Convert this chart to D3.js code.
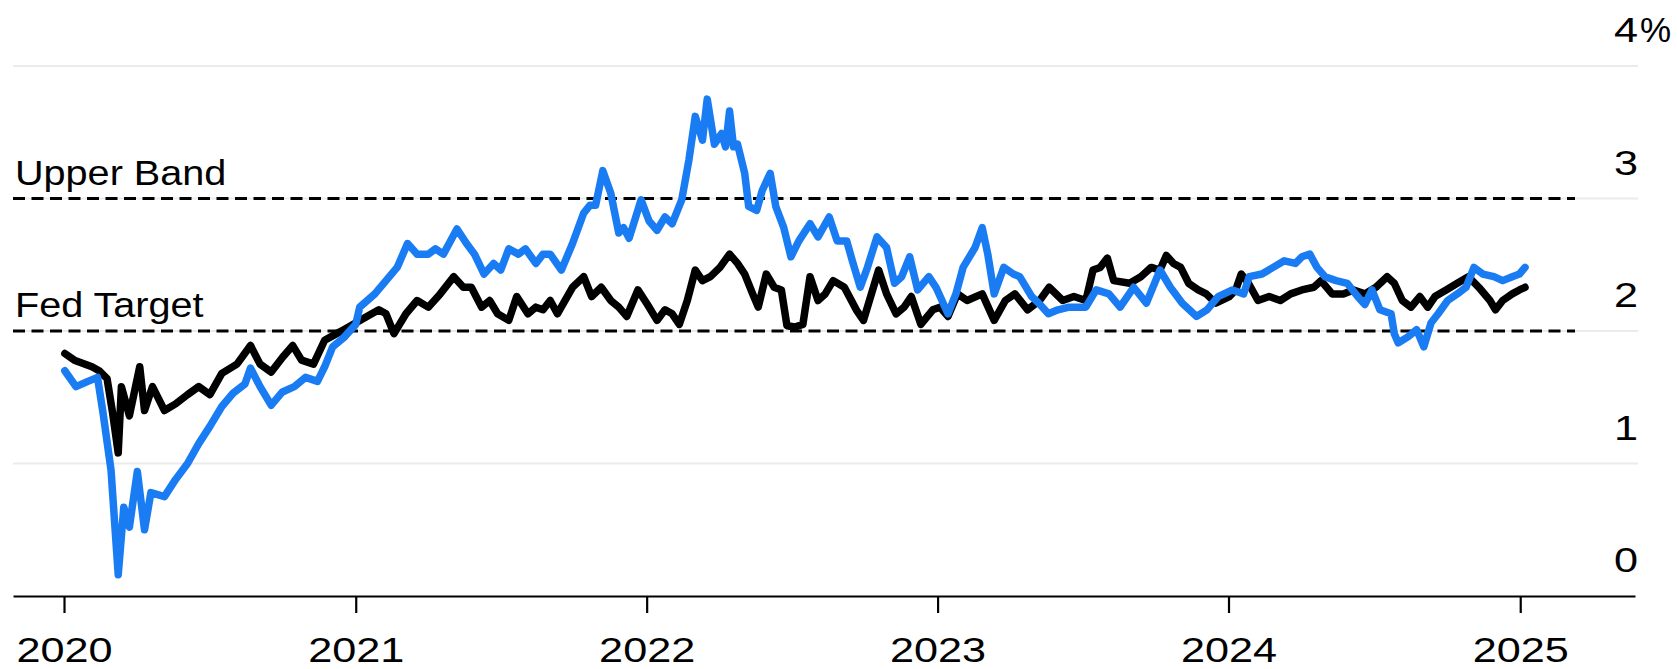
<!DOCTYPE html>
<html>
<head>
<meta charset="utf-8">
<script src="https://cdn.jsdelivr.net/npm/d3@7"></script>
<style>
  html, body { margin: 0; padding: 0; background: #fff; }
  svg { display: block; }
  text { font-family: "Liberation Sans", Arial, Helvetica, sans-serif; fill: #000; }
</style>
</head>
<body>
<svg id="chart" width="1677" height="669"></svg>
<script>
// Long-run inflation gauge, percent (black series)
const blackSeries = [
  ["2020-01-02",1.83],["2020-01-14",1.78],["2020-02-05",1.73],["2020-02-14",1.70],["2020-02-24",1.64],["2020-03-02",1.38],["2020-03-09",1.08],["2020-03-13",1.58],["2020-03-23",1.36],["2020-04-05",1.73],["2020-04-11",1.40],["2020-04-21",1.58],["2020-05-06",1.40],["2020-05-20",1.45],["2020-06-04",1.52],["2020-06-18",1.58],["2020-07-02",1.52],["2020-07-17",1.68],["2020-08-05",1.75],["2020-08-22",1.89],["2020-09-03",1.75],["2020-09-17",1.69],["2020-10-01",1.80],["2020-10-14",1.89],["2020-10-25",1.78],["2020-11-09",1.75],["2020-11-23",1.93],["2020-12-08",1.98],["2020-12-17",2.01],
  ["2021-01-15",2.11],["2021-01-30",2.16],["2021-02-08",2.13],["2021-02-18",1.98],["2021-03-05",2.13],["2021-03-19",2.23],["2021-04-02",2.18],["2021-04-17",2.28],["2021-05-04",2.41],["2021-05-16",2.33],["2021-05-26",2.33],["2021-06-08",2.18],["2021-06-18",2.23],["2021-06-28",2.13],["2021-07-12",2.08],["2021-07-22",2.26],["2021-08-05",2.13],["2021-08-15",2.18],["2021-08-24",2.16],["2021-09-02",2.23],["2021-09-11",2.13],["2021-09-30",2.33],["2021-10-14",2.41],["2021-10-24",2.26],["2021-11-05",2.33],["2021-11-17",2.23],["2021-11-27",2.18],["2021-12-07",2.11],["2021-12-21",2.31],
  ["2022-01-02",2.20],["2022-01-14",2.08],["2022-01-24",2.16],["2022-02-02",2.13],["2022-02-11",2.05],["2022-02-21",2.23],["2022-03-03",2.46],["2022-03-12",2.38],["2022-03-22",2.41],["2022-04-03",2.48],["2022-04-15",2.58],["2022-04-25",2.51],["2022-05-04",2.43],["2022-05-14",2.28],["2022-05-21",2.18],["2022-05-31",2.43],["2022-06-10",2.33],["2022-06-19",2.31],["2022-06-26",2.04],["2022-07-06",2.03],["2022-07-16",2.05],["2022-07-25",2.41],["2022-08-04",2.23],["2022-08-13",2.28],["2022-08-23",2.38],["2022-09-06",2.33],["2022-09-21",2.16],["2022-09-30",2.08],["2022-10-19",2.46],["2022-10-29",2.28],["2022-11-10",2.13],["2022-11-20",2.18],["2022-11-29",2.26],["2022-12-11",2.05],["2022-12-26",2.16],
  ["2023-01-04",2.18],["2023-01-14",2.11],["2023-01-26",2.28],["2023-02-07",2.23],["2023-02-26",2.28],["2023-03-13",2.08],["2023-03-27",2.23],["2023-04-08",2.28],["2023-04-24",2.16],["2023-05-09",2.23],["2023-05-21",2.33],["2023-06-07",2.23],["2023-06-21",2.26],["2023-07-06",2.23],["2023-07-15",2.46],["2023-07-24",2.48],["2023-08-02",2.55],["2023-08-10",2.38],["2023-08-30",2.36],["2023-09-13",2.41],["2023-09-26",2.48],["2023-10-07",2.46],["2023-10-15",2.57],["2023-10-24",2.51],["2023-11-02",2.48],["2023-11-12",2.36],["2023-11-24",2.31],["2023-12-04",2.28],["2023-12-16",2.21],
  ["2024-01-02",2.26],["2024-01-10",2.31],["2024-01-17",2.43],["2024-01-26",2.36],["2024-02-07",2.23],["2024-02-21",2.26],["2024-03-06",2.23],["2024-03-19",2.28],["2024-04-02",2.31],["2024-04-17",2.33],["2024-04-26",2.38],["2024-05-10",2.28],["2024-05-24",2.28],["2024-06-06",2.31],["2024-06-20",2.28],["2024-07-04",2.33],["2024-07-18",2.41],["2024-07-27",2.36],["2024-08-06",2.23],["2024-08-17",2.18],["2024-08-28",2.26],["2024-09-07",2.18],["2024-09-16",2.26],["2024-09-30",2.31],["2024-10-14",2.36],["2024-10-28",2.41],["2024-11-10",2.33],["2024-11-24",2.23],["2024-12-01",2.16],["2024-12-10",2.23],["2024-12-22",2.28],["2024-12-31",2.31],["2025-01-07",2.33]
];

// Shorter-horizon gauge, percent (blue series)
const blueSeries = [
  ["2020-01-02",1.70],["2020-01-16",1.58],["2020-01-31",1.62],["2020-02-12",1.65],["2020-02-19",1.38],["2020-02-29",0.95],["2020-03-09",0.16],["2020-03-16",0.67],["2020-03-23",0.52],["2020-04-02",0.94],["2020-04-11",0.50],["2020-04-19",0.78],["2020-05-06",0.75],["2020-05-20",0.88],["2020-06-04",1.00],["2020-06-18",1.15],["2020-07-02",1.28],["2020-07-17",1.43],["2020-07-31",1.53],["2020-08-15",1.60],["2020-08-22",1.72],["2020-09-03",1.58],["2020-09-17",1.44],["2020-10-01",1.54],["2020-10-16",1.58],["2020-10-30",1.65],["2020-11-14",1.62],["2020-11-23",1.73],["2020-12-03",1.88],["2020-12-17",1.95],
  ["2021-01-01",2.05],["2021-01-06",2.18],["2021-01-25",2.28],["2021-02-08",2.38],["2021-02-22",2.48],["2021-03-07",2.66],["2021-03-19",2.58],["2021-04-02",2.58],["2021-04-11",2.62],["2021-04-21",2.58],["2021-05-08",2.77],["2021-05-20",2.66],["2021-05-30",2.58],["2021-06-11",2.43],["2021-06-23",2.51],["2021-07-02",2.46],["2021-07-12",2.62],["2021-07-24",2.58],["2021-08-02",2.62],["2021-08-15",2.51],["2021-08-24",2.58],["2021-09-02",2.58],["2021-09-16",2.46],["2021-09-30",2.66],["2021-10-14",2.89],["2021-10-22",2.95],["2021-10-29",2.95],["2021-11-07",3.21],["2021-11-17",3.04],["2021-11-27",2.74],["2021-12-03",2.78],["2021-12-10",2.70],["2021-12-25",2.99],
  ["2022-01-04",2.83],["2022-01-14",2.76],["2022-01-24",2.86],["2022-02-02",2.81],["2022-02-14",2.99],["2022-02-23",3.29],["2022-03-03",3.62],["2022-03-12",3.44],["2022-03-18",3.75],["2022-03-27",3.41],["2022-04-05",3.49],["2022-04-10",3.39],["2022-04-15",3.66],["2022-04-20",3.39],["2022-04-25",3.41],["2022-05-04",3.19],["2022-05-09",2.94],["2022-05-19",2.91],["2022-05-26",3.06],["2022-06-05",3.19],["2022-06-12",2.94],["2022-06-22",2.78],["2022-07-01",2.56],["2022-07-11",2.68],["2022-07-25",2.81],["2022-08-04",2.71],["2022-08-18",2.86],["2022-08-28",2.68],["2022-09-09",2.68],["2022-09-16",2.53],["2022-09-26",2.33],["2022-10-05",2.48],["2022-10-17",2.71],["2022-10-29",2.63],["2022-11-08",2.36],["2022-11-17",2.41],["2022-11-27",2.56],["2022-12-07",2.31],["2022-12-21",2.41],["2022-12-30",2.33],
  ["2023-01-14",2.13],["2023-01-24",2.28],["2023-02-02",2.48],["2023-02-17",2.63],["2023-02-26",2.78],["2023-03-05",2.58],["2023-03-13",2.28],["2023-03-25",2.48],["2023-04-06",2.43],["2023-04-14",2.41],["2023-04-29",2.26],["2023-05-08",2.21],["2023-05-20",2.13],["2023-06-01",2.16],["2023-06-15",2.18],["2023-07-06",2.18],["2023-07-19",2.31],["2023-08-04",2.28],["2023-08-18",2.18],["2023-09-04",2.33],["2023-09-20",2.21],["2023-10-07",2.46],["2023-10-20",2.33],["2023-11-04",2.21],["2023-11-22",2.11],["2023-12-05",2.16],["2023-12-19",2.26],
  ["2024-01-06",2.31],["2024-01-20",2.28],["2024-01-27",2.41],["2024-02-12",2.43],["2024-02-26",2.48],["2024-03-11",2.53],["2024-03-25",2.51],["2024-04-02",2.56],["2024-04-12",2.58],["2024-04-21",2.48],["2024-05-01",2.41],["2024-05-15",2.38],["2024-05-29",2.36],["2024-06-11",2.26],["2024-06-20",2.20],["2024-06-29",2.31],["2024-07-09",2.16],["2024-07-23",2.13],["2024-07-27",1.98],["2024-08-01",1.91],["2024-08-14",1.96],["2024-08-24",2.01],["2024-09-02",1.88],["2024-09-11",2.06],["2024-09-20",2.13],["2024-10-02",2.23],["2024-10-14",2.28],["2024-10-25",2.33],["2024-11-04",2.48],["2024-11-15",2.43],["2024-11-29",2.41],["2024-12-10",2.38],["2024-12-22",2.41],["2024-12-31",2.43],["2025-01-07",2.48]
];

// Reference levels drawn as dashed rules
const referenceLines = [
  { label: "Upper Band", value: 3 },
  { label: "Fed Target", value: 2 }
];

const yTicks = [0, 1, 2, 3, 4];
const yTickLabels = ["0", "1", "2", "3", "4"];
const xTickYears = [2020, 2021, 2022, 2023, 2024, 2025];

const parse = d3.timeParse("%Y-%m-%d");
const toPoints = s => s.map(([d, v]) => ({ date: parse(d), value: v }));

const svg = d3.select("#chart");

// Time axis spans a little beyond the data on both sides
const x = d3.scaleTime()
  .domain([new Date(2019, 9, 29), new Date(2025, 4, 25)])
  .range([13, 1635]);

const y = d3.scaleLinear().domain([0, 4]).range([596, 66]);

const gridRight = 1638;
const dashRight = 1575;

// Light horizontal gridlines
svg.append("g")
  .selectAll("line")
  .data(yTicks.filter(t => t > 0))
  .join("line")
  .attr("x1", x.range()[0])
  .attr("x2", gridRight)
  .attr("y1", d => y(d))
  .attr("y2", d => y(d))
  .attr("stroke", "#ebebeb")
  .attr("stroke-width", 2);

// Dashed reference rules and their labels
const refs = svg.append("g");
refs.selectAll("line")
  .data(referenceLines)
  .join("line")
  .attr("x1", x.range()[0])
  .attr("x2", dashRight)
  .attr("y1", d => y(d.value))
  .attr("y2", d => y(d.value))
  .attr("stroke", "#000")
  .attr("stroke-width", 3)
  .attr("stroke-dasharray", "12,6.5");

refs.selectAll("text")
  .data(referenceLines)
  .join("text")
  .attr("transform", d => `translate(15,${y(d.value) - 14}) scale(1.1,1)`)
  .attr("font-size", 36)
  .text(d => d.label);

// X axis
const xAxis = d3.axisBottom(x)
  .tickValues(xTickYears.map(yr => new Date(yr, 0, 1)))
  .tickFormat(d3.timeFormat("%Y"))
  .tickSizeOuter(0)
  .tickSizeInner(17)
  .tickPadding(0);

const gx = svg.append("g")
  .attr("transform", `translate(0,${y(0)})`)
  .call(xAxis);
gx.select(".domain").attr("stroke", "#000").attr("stroke-width", 2.2);
gx.selectAll(".tick line").attr("stroke", "#000").attr("stroke-width", 2.2);
gx.selectAll(".tick text")
  .attr("font-size", 36)
  .attr("font-family", "Liberation Sans, Arial, sans-serif")
  .attr("fill", "#000")
  .attr("y", 0)
  .attr("dy", 0)
  .attr("transform", "translate(0,66) scale(1.2,1)");

// Y tick labels on the right, sitting above their gridlines
const yl = svg.append("g");
yl.selectAll("text.ytick")
  .data(yTicks)
  .join("text")
  .attr("class", "ytick")
  .attr("transform", d => `translate(1638,${y(d) - 24}) scale(1.2,1)`)
  .attr("text-anchor", "end")
  .attr("font-size", 36)
  .text((d, i) => yTickLabels[i]);

// Percent sign trailing the top label
yl.append("text")
  .attr("transform", `translate(1640,${y(yTicks[yTicks.length - 1]) - 24})`)
  .attr("font-size", 35)
  .text("%");

// Series lines; blue is drawn over black
const line = d3.line()
  .x(d => x(d.date))
  .y(d => y(d.value))
  .curve(d3.curveLinear);

svg.append("path")
  .datum(toPoints(blackSeries))
  .attr("fill", "none")
  .attr("stroke", "#000")
  .attr("stroke-width", 7.5)
  .attr("stroke-linejoin", "round")
  .attr("stroke-linecap", "round")
  .attr("d", line);

svg.append("path")
  .datum(toPoints(blueSeries))
  .attr("fill", "none")
  .attr("stroke", "#1a7cf2")
  .attr("stroke-width", 7.5)
  .attr("stroke-linejoin", "round")
  .attr("stroke-linecap", "round")
  .attr("d", line);
</script>
</body>
</html>
